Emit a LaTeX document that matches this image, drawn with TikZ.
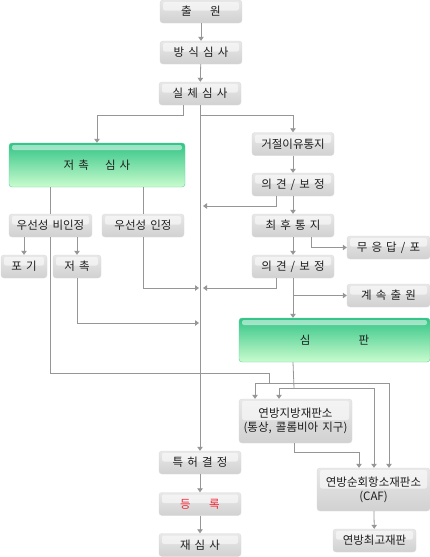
\documentclass[tikz,border=0pt]{standalone}
\usepackage{fontspec}
\setmainfont{Noto Sans CJK KR}[WordSpace=1.6]
\usetikzlibrary{arrows.meta,positioning,calc}
\definecolor{myGray}{RGB}{150,150,150}
\definecolor{myText}{RGB}{30,30,30}
\definecolor{myGreenTop}{RGB}{50,196,134}
\definecolor{myGreenBot}{RGB}{202,252,206}
\definecolor{myRed}{RGB}{240,40,55}
\tikzset{
	gbox/.style={
		rounded corners=3pt,
		top color=gray!18,
		bottom color=gray!36,
		draw=gray!28,
		align=center,
		inner sep=1pt,
		minimum width=82pt,
		minimum height=23pt,
		text=myText,
		font=\fontsize{11.5}{14}\selectfont,
		path picture={\fill[white,opacity=0.55,rounded corners=2pt]
			($(path picture bounding box.north west)+(3pt,-2pt)$) rectangle
			($(path picture bounding box.east)+(-3pt,1pt)$);}
	},
	grbox/.style={
		rounded corners=3pt,
		top color=myGreenTop,
		bottom color=myGreenBot,
		draw=myGreenTop!80,
		align=center,
		minimum height=44pt,
		text=myText,
		font=\fontsize{11.5}{14}\selectfont,
		path picture={\fill[white,opacity=0.5,rounded corners=2pt]
			($(path picture bounding box.north west)+(3pt,-2pt)$) rectangle
			($(path picture bounding box.north east)+(-3pt,-7pt)$);}
	},
	arr/.style={-{Triangle[length=4pt,width=5.5pt]}, myGray, line width=0.8pt},
	ln/.style={myGray, line width=0.8pt}
}

\begin{document}
\begin{tikzpicture}[x=1pt, y=-1pt]
	\useasboundingbox (0,0) rectangle (430,557);
	% main column
	\node[gbox] (cw) at (201,11.5) {출\hspace{1.6em}원};
	\node[gbox] (bs) at (201,52.5) {방 식 심 사};
	\node[gbox] (ss) at (200,93.5) {실 체 심 사};
	\node[gbox] (tk) at (200,462.5) {특 허 결 정};
	\node[gbox, text=myRed] (dr) at (200,504) {등\hspace{1.6em}록};
	\node[gbox] (js) at (200,545) {재 심 사};
	% interference side
	\node[grbox, minimum width=176pt] (jc) at (97,165) {저 촉\hspace{1.4em}심 사};
	\node[gbox, minimum width=83pt] (ub) at (50.5,225.5) {우선성 비인정};
	\node[gbox] (ui) at (143,225.5) {우선성 인정};
	\node[gbox, minimum width=46pt] (pg) at (24,266.5) {포 기};
	\node[gbox, minimum width=48pt] (jcb) at (77,266.5) {저 촉};
	% rejection side
	\node[gbox] (gj) at (293,144) {거절이유통지};
	\node[gbox] (ug1) at (293,184.5) {의 견 / 보 정};
	\node[gbox] (ht) at (293,225.5) {최 후 통 지};
	\node[gbox] (ug2) at (293,266.5) {의 견 / 보 정};
	\node[gbox, minimum width=83pt] (mu) at (388.5,247.5) {무 응 답 / 포};
	\node[gbox, minimum width=83pt] (gs) at (388.5,295.5) {계 속 출 원};
	\node[grbox, minimum width=191pt] (sp) at (334.5,340) {심\hspace{4.2em}판};
	% courts
	\node[gbox, minimum width=113pt, minimum height=44pt] (fd) at (295.5,421) {연방지방재판소\\(통상, 콜롬비아 지구)};
	\node[gbox, minimum width=113pt, minimum height=43pt] (caf) at (373.5,489.5) {연방순회항소재판소\\(CAF)};
	\node[gbox, minimum width=83pt] (sc) at (374.5,540.5) {연방최고재판};
	% joints
	\coordinate (j1) at (200,115);
	\coordinate (mr1) at (203,206);
	\coordinate (mr2) at (203,288);
	\coordinate (ml2) at (199,288);
	\coordinate (ml3) at (199,323);
	\coordinate (k1) at (269,373);
	\coordinate (k2) at (269,383);
	\coordinate (k3) at (294,388);
	% main flow
	\draw[arr] (cw) -- (bs);
	\draw[arr] (bs) -- (ss);
	\draw[arr] (ss) -- (tk);
	\draw[arr] (tk) -- (dr);
	\draw[arr] (dr) -- (js);
	\draw[arr] ([xshift=-17pt]ss.south) -- ++(0,10) -| (jc.north);
	\draw[arr] (j1) -| (gj.north);
	% interference
	\draw[ln] (jc.south -| ub.north) -- (ub.north);
	\draw[ln] (jc.south -| ui.north) -- (ui.north);
	\draw[arr] (ub.south -| pg.north) -- (pg.north);
	\draw[arr] (ub.south -| jcb.north) -- (jcb.north);
	\draw[arr] (ui.south) |- (ml2);
	\draw[arr] (jcb.south) |- (ml3);
	% rejection
	\draw[arr] (gj) -- (ug1);
	\draw[arr] (ug1) -- (ht);
	\draw[arr] (ht) -- (ug2);
	\draw[arr] ([xshift=-17pt]ug1.south) |- (mr1);
	\draw[arr] ([xshift=18pt]ht.south) |- (mu.west);
	\draw[arr] ([xshift=-17pt]ug2.south) |- (mr2);
	\draw[arr] (ug2.south) |- (gs.west);
	\draw[arr] (ug2.south) -- (ug2.south |- sp.north);
	% to the courts
	\draw[ln] (ub.south) |- (k1) -- (k2);
	\draw[arr] (k2) -| ([xshift=-40.5pt]fd.north);
	\draw[arr] (k2) -| ([xshift=15.5pt]caf.north);
	\draw[ln] (ug2.south |- sp.south) -- (k3);
	\draw[arr] (k3) -| ([xshift=-16.5pt]fd.north);
	\draw[arr] (k3) -| ([xshift=0.5pt]caf.north);
	\draw[arr] ([xshift=-1.5pt]fd.south) -- ++(0,9) -| ([xshift=-14.5pt]caf.north);
	\draw[arr] (caf) -- (sc);
\end{tikzpicture}
\end{document}
